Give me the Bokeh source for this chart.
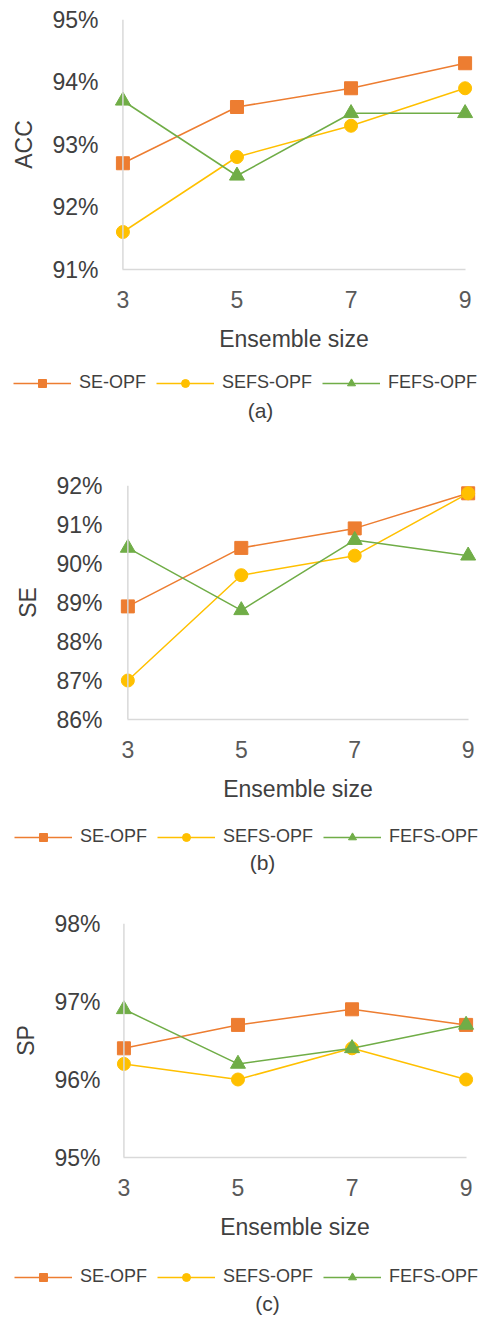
from bokeh.plotting import figure
from bokeh.models import (Range1d, FixedTicker, PrintfTickFormatter, Span, Legend,
                          LegendItem, Label)
from bokeh.embed import file_html
from bokeh.resources import INLINE

# ---------------- data ----------------
ensemble_sizes = [3, 5, 7, 9]
series_names = ["SE-OPF", "SEFS-OPF", "FEFS-OPF"]

acc_se_opf = [92.7, 93.6, 93.9, 94.3]
acc_sefs_opf = [91.6, 92.8, 93.3, 93.9]
acc_fefs_opf = [93.7, 92.5, 93.5, 93.5]
acc_ticks = [91, 92, 93, 94, 95]

se_se_opf = [88.9, 90.4, 90.9, 91.8]
se_sefs_opf = [87.0, 89.7, 90.2, 91.8]
se_fefs_opf = [90.4, 88.8, 90.6, 90.2]
se_ticks = [86, 87, 88, 89, 90, 91, 92]

sp_se_opf = [96.4, 96.7, 96.9, 96.7]
sp_sefs_opf = [96.2, 96.0, 96.4, 96.0]
sp_fefs_opf = [96.9, 96.2, 96.4, 96.7]
sp_ticks = [95, 96, 97, 98]

captions = ["(a)", "(b)", "(c)"]
y_titles = ["ACC", "SE", "SP"]
x_title = "Ensemble size"

# ---------------- style ----------------
COLORS = ["#ED7D31", "#FFC000", "#70AD47"]
MARKERS = ["square", "circle", "triangle"]
MSIZES = [13, 13, 15]
FONT = "Liberation Sans"
W = 485


def add_series(p, series, visible=True):
    rs = []
    for vals, name, col, mk, ms in zip(series, series_names, COLORS, MARKERS, MSIZES):
        r1 = p.line(ensemble_sizes, vals, line_color=col, line_width=1.5, visible=visible)
        r2 = p.scatter(ensemble_sizes, vals, marker=mk, size=ms, fill_color=col,
                       line_color=col, visible=visible)
        rs.append((name, r1, r2))
    return rs


def make_chart(series, ticks, ytitle, height, border_top, border_left,
               border_right, frame_h, lab_standoff):
    ymin, ymax = ticks[0], ticks[-1]
    p = figure(width=W, height=height, output_backend="svg", toolbar_location=None,
               x_range=Range1d(2.8, 9.2), y_range=Range1d(ymin, ymax),
               min_border_top=border_top, min_border_left=border_left,
               min_border_right=border_right,
               min_border_bottom=height - border_top - frame_h)
    p.outline_line_color = None
    p.grid.visible = False

    xa = p.xaxis[0]
    xa.ticker = FixedTicker(ticks=ensemble_sizes)
    xa.bounds = (ensemble_sizes[0], ensemble_sizes[-1])
    xa.axis_line_color = "#d9d9d9"
    xa.axis_line_width = 1.5
    xa.major_tick_line_color = None
    xa.minor_tick_line_color = None
    xa.major_tick_out = 0
    xa.major_label_standoff = 21
    xa.major_label_text_font = FONT
    xa.major_label_text_font_size = "23px"
    xa.major_label_text_color = "#595959"
    xa.axis_label = x_title
    xa.axis_label_text_font = FONT
    xa.axis_label_text_font_size = "23px"
    xa.axis_label_text_font_style = "normal"
    xa.axis_label_text_color = "#404040"
    xa.axis_label_standoff = 15

    ya = p.yaxis[0]
    ya.ticker = FixedTicker(ticks=ticks)
    ya.formatter = PrintfTickFormatter(format="%d%%")
    ya.axis_line_color = None
    ya.major_tick_line_color = None
    ya.minor_tick_line_color = None
    ya.major_tick_out = 0
    ya.major_label_standoff = lab_standoff
    ya.major_label_text_font = FONT
    ya.major_label_text_font_size = "23px"
    ya.major_label_text_color = "#404040"
    ya.axis_label = ytitle
    ya.axis_label_text_font = FONT
    ya.axis_label_text_font_size = "23px"
    ya.axis_label_text_font_style = "normal"
    ya.axis_label_text_color = "#404040"
    ya.axis_label_standoff = 12

    p.add_layout(Span(location=ensemble_sizes[0], dimension="height",
                      line_color="#d9d9d9", line_width=1.5), "center")
    add_series(p, series)
    return p


def make_legend_strip(series, caption, height, legend_x, legend_cy, cap_x, cap_cy):
    q = figure(width=W, height=height, output_backend="svg", toolbar_location=None,
               x_axis_type=None, y_axis_type=None,
               x_range=Range1d(0, 1), y_range=Range1d(0, 1),
               min_border=0, min_border_left=0, min_border_right=0,
               min_border_top=0, min_border_bottom=0)
    q.outline_line_color = None
    q.grid.visible = False
    rs = add_series(q, series, visible=False)
    items = [LegendItem(label=n, renderers=[r1, r2]) for n, r1, r2 in rs]
    leg = Legend(items=items, orientation="horizontal",
                 location=(legend_x, height - legend_cy - 10),
                 glyph_width=58, glyph_height=20, label_height=20,
                 label_standoff=8, spacing=10, padding=0, margin=0,
                 border_line_color=None, background_fill_alpha=0,
                 label_text_font=FONT, label_text_font_size="18px",
                 label_text_color="#404040")
    q.add_layout(leg, "center")
    q.add_layout(Label(x=cap_x, y=height - cap_cy, x_units="screen", y_units="screen",
                       text=caption, text_align="center", text_baseline="middle",
                       text_font=FONT, text_font_size="21px", text_color="#404040"))
    return q


sa = [acc_se_opf, acc_sefs_opf, acc_fefs_opf]
sb = [se_se_opf, se_sefs_opf, se_fefs_opf]
sc = [sp_se_opf, sp_sefs_opf, sp_fefs_opf]

pa = make_chart(sa, acc_ticks, y_titles[0], 360, 19, 111, 9, 250, 13)
qa = make_legend_strip(sa, captions[0], 70, 13, 23, 260, 50)
pb = make_chart(sb, se_ticks, y_titles[1], 380, 55, 116, 6, 234, 14)
qb = make_legend_strip(sb, captions[1], 70, 14, 27, 262, 52)
pc = make_chart(sc, sp_ticks, y_titles[2], 370, 43, 112, 8, 234, 12)
qc = make_legend_strip(sc, captions[2], 70, 14, 27, 267, 53)

open("out.html", "w").write(file_html([pa, qa, pb, qb, pc, qc], INLINE))
